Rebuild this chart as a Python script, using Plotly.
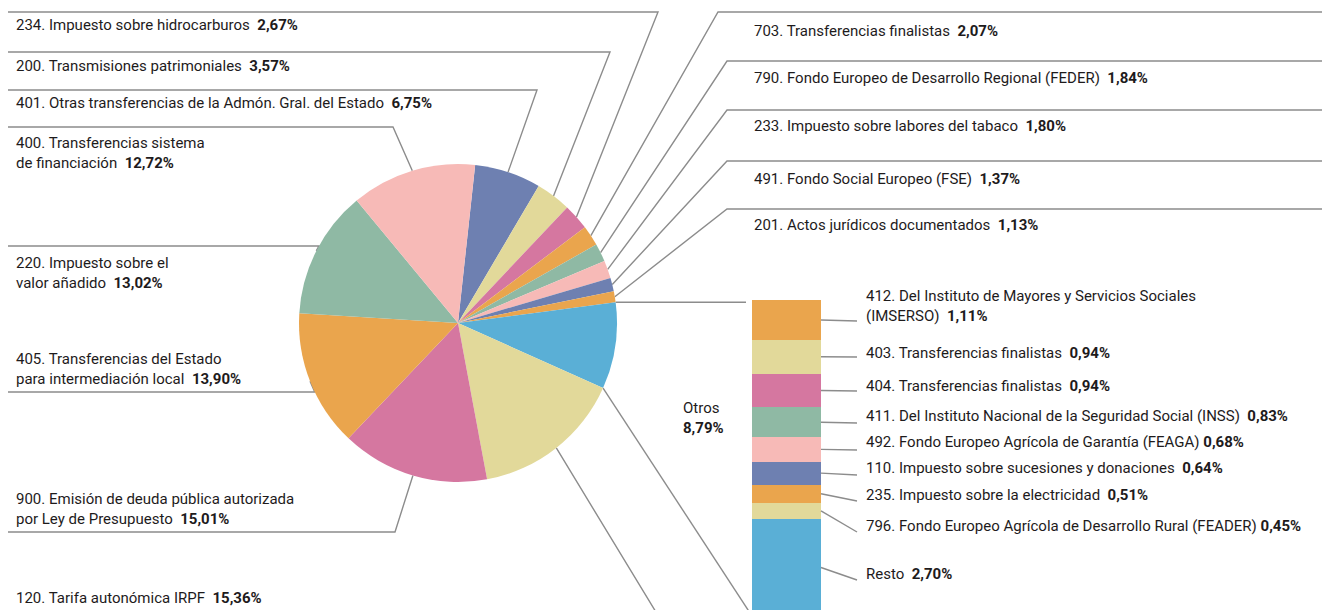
import math
import plotly.graph_objects as go

# ---------------- data ----------------
pie_codes = ["401", "200", "234", "703", "790", "233", "491", "201",
             "Otros", "120", "900", "405", "220", "400"]
pie_names = [
    "Otras transferencias de la Admón. Gral. del Estado",
    "Transmisiones patrimoniales",
    "Impuesto sobre hidrocarburos",
    "Transferencias finalistas",
    "Fondo Europeo de Desarrollo Regional (FEDER)",
    "Impuesto sobre labores del tabaco",
    "Fondo Social Europeo (FSE)",
    "Actos jurídicos documentados",
    "Otros",
    "Tarifa autonómica IRPF",
    "Emisión de deuda pública autorizada\npor Ley de Presupuesto",
    "Transferencias del Estado\npara intermediación local",
    "Impuesto sobre el\nvalor añadido",
    "Transferencias sistema\nde financiación",
]
pie_values = [6.75, 3.57, 2.67, 2.07, 1.84, 1.80, 1.37, 1.13,
              8.79, 15.36, 15.01, 13.90, 13.02, 12.72]
pie_colors = ["#6E80B1", "#E2D99A", "#D577A0", "#EAA54D", "#8FB9A4", "#F7BAB7",
              "#6E80B1", "#EAA54D", "#5AAFD6", "#E2D99A", "#D577A0", "#EAA54D",
              "#8FB9A4", "#F7BAB7"]

otros_codes = ["412", "403", "404", "411", "492", "110", "235", "796", ""]
otros_names = [
    "Del Instituto de Mayores y Servicios Sociales\n(IMSERSO)",
    "Transferencias finalistas",
    "Transferencias finalistas",
    "Del Instituto Nacional de la Seguridad Social (INSS)",
    "Fondo Europeo Agrícola de Garantía (FEAGA)",
    "Impuesto sobre sucesiones y donaciones",
    "Impuesto sobre la electricidad",
    "Fondo Europeo Agrícola de Desarrollo Rural (FEADER)",
    "Resto",
]
otros_values = [1.11, 0.94, 0.94, 0.83, 0.68, 0.64, 0.51, 0.45, 2.70]
otros_colors = ["#EAA54D", "#E2D99A", "#D577A0", "#8FB9A4", "#F7BAB7",
                "#6E80B1", "#EAA54D", "#E2D99A", "#5AAFD6"]

# ---------------- layout constants ----------------
W, H = 1322, 610
CX, CY, R = 458, 323, 159          # pie centre / radius in px
ROT = 6.2                           # start angle of first slice (deg, clockwise from 12 o'clock)
BAR_X0, BAR_X1 = 752, 821
BAR_TOP, BAR_BOTTOM = 300, 616      # px for stacked "Otros" bar
TEXT = "#1E1B1C"
LINE = "#8C8C8C"
FONT = "Roboto"
FS = 15

def pct(v, sep="\u00a0\u00a0"):
    return sep + "<b>" + f"{v:.2f}".replace(".", ",") + "%</b>"

def label_text(code, name, v, sep="\u00a0\u00a0"):
    nm = name.replace("\n", "<br>")
    prefix = (code + ". ") if code else ""
    return prefix + nm + pct(v, sep)

total = sum(pie_values)

def circle_pt(angle_deg):
    a = math.radians(angle_deg)
    return CX + R * math.sin(a), CY - R * math.cos(a)

# angles of slices
starts, mids, ends = [], [], []
cum = 0.0
for v in pie_values:
    a0 = ROT + 360 * cum / total
    a1 = ROT + 360 * (cum + v) / total
    starts.append(a0); ends.append(a1); mids.append((a0 + a1) / 2)
    cum += v

# label placement (layout) : code -> (x, y)
pie_label_pos = {
    "234": (14, 25), "200": (14, 66), "401": (14, 103), "400": (14, 153),
    "220": (14, 273), "405": (14, 369), "900": (14, 509), "120": (14, 598),
    "703": (752, 31), "790": (752, 78), "233": (752, 126), "491": (752, 179),
    "201": (752, 225),
}
# leader route (layout) : code -> (line_y, elbow_x or None, side)
routes = {
    "401": (90, 537, "L"), "200": (52, 610, "L"), "234": (12, 658, "L"),
    "703": (12, 718, "R"), "790": (61, 727, "R"), "233": (110, 727, "R"),
    "491": (161, 727, "R"), "201": (209, 727, "R"),
    "120": (622, 662, "L"), "900": (532, 395, "L"),
    "405": (392, None, "L"), "220": (246, None, "L"), "400": (127, 393, "L"),
}

fig = go.Figure()

# overlay pixel axis for leader lines + annotations
line_kw = dict(mode="lines", line=dict(color=LINE, width=1.4), hoverinfo="skip",
               showlegend=False, xaxis="x3", yaxis="y3")

for i, code in enumerate(pie_codes):
    if code not in routes:
        continue
    ly, ex, side = routes[code]
    ax, ay = circle_pt(mids[i])
    if ex is None:
        ex = CX - math.sqrt(R ** 2 - (ly - CY) ** 2)
    xend = 8 if side == "L" else W + 10
    fig.add_trace(go.Scatter(x=[xend, ex, ax], y=[ly, ly, ay], **line_kw))

# connectors from the "Otros" slice to the bar
io = pie_codes.index("Otros")
sx, sy = circle_pt(starts[io])
fig.add_trace(go.Scatter(x=[sx, 746], y=[sy, sy], **line_kw))
exx, eyy = circle_pt(ends[io])
fig.add_trace(go.Scatter(x=[exx, BAR_X0], y=[eyy, BAR_BOTTOM], **line_kw))

# pie
fig.add_trace(go.Pie(
    values=pie_values, labels=[c + " " + n.replace("\n", " ") for c, n in zip(pie_codes, pie_names)],
    marker=dict(colors=pie_colors, line=dict(width=0)),
    sort=False, direction="clockwise", rotation=ROT,
    textinfo="none", hoverinfo="label+percent", showlegend=False,
    domain=dict(x=[(CX - R) / W, (CX + R) / W],
                y=[(H - CY - R) / H, (H - CY + R) / H]),
))

# stacked bar for "Otros"
px_per_pct = (BAR_BOTTOM - BAR_TOP) / sum(otros_values)
for name, v, c in zip(otros_names, otros_values, otros_colors):
    fig.add_trace(go.Bar(x=[0], y=[v], marker=dict(color=c, line=dict(width=0)),
                         width=1, name=name.replace("\n", " "), showlegend=False,
                         xaxis="x2", yaxis="y2"))

# bar-segment connectors and labels
otros_label_y = [306, 353, 386, 416, 442, 468, 495, 526, 574]
otros_line_end_y = [321, 357, 391, 423, 450, 475, 501, 532, 580]
cum = 0.0
annotations = []
for code, name, v, lyy, ley in zip(otros_codes, otros_names, otros_values,
                                   otros_label_y, otros_line_end_y):
    mid_px = BAR_TOP + (cum + v / 2) * px_per_pct
    cum += v
    fig.add_trace(go.Scatter(x=[BAR_X1, 857], y=[mid_px, ley], **line_kw))
    sep = "\u00a0" if code in ("492", "796") else "\u00a0\u00a0"
    annotations.append(dict(x=864, y=lyy, text=label_text(code, name, v, sep)))

for i, code in enumerate(pie_codes):
    if code in pie_label_pos:
        x, y = pie_label_pos[code]
        annotations.append(dict(x=x, y=y, text=label_text(code, pie_names[i], pie_values[i])))

annotations.append(dict(x=681, y=418, text="Otros<br>" + pct(pie_values[io], "")))

for a in annotations:
    a.update(xref="x3", yref="y3", xanchor="left", yanchor="middle", showarrow=False,
             align="left", font=dict(family=FONT, size=FS, color=TEXT))

fig.update_layout(
    width=W, height=H,
    margin=dict(l=0, r=0, t=0, b=0),
    paper_bgcolor="white", plot_bgcolor="rgba(0,0,0,0)",
    barmode="stack", bargap=0,
    font=dict(family=FONT, size=FS, color=TEXT),
    annotations=annotations,
    xaxis2=dict(domain=[BAR_X0 / W, BAR_X1 / W], range=[-0.5, 0.5], visible=False,
                anchor="y2", fixedrange=True),
    yaxis2=dict(domain=[0, (H - BAR_TOP) / H], range=[(H - BAR_TOP) / px_per_pct, 0],
                visible=False, anchor="x2", fixedrange=True),
    xaxis3=dict(domain=[0, 1], range=[0, W], visible=False, anchor="y3", fixedrange=True),
    yaxis3=dict(domain=[0, 1], range=[H, 0], visible=False, anchor="x3", fixedrange=True),
    xaxis=dict(visible=False), yaxis=dict(visible=False),
)

fig.write_html(
    "out.html",
    config={"displayModeBar": False},
    post_script="document.body.style.margin='0';document.body.style.padding='0';"
                "document.documentElement.style.overflow='hidden';",
)
